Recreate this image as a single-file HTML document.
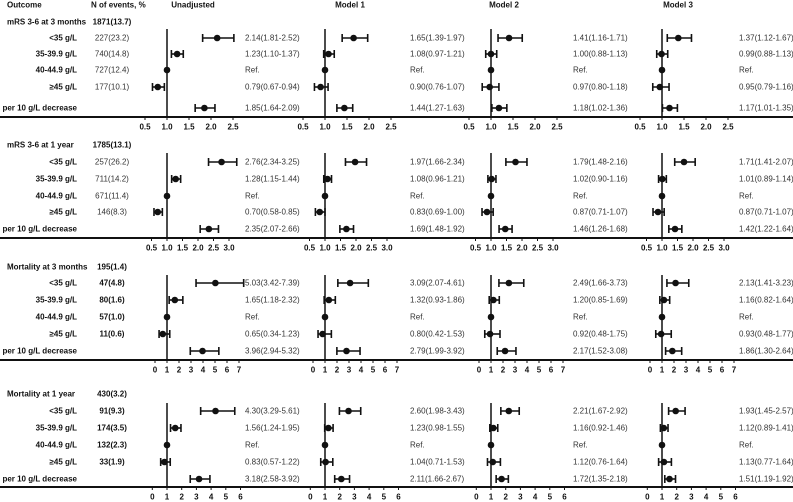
<!DOCTYPE html>
<html><head><meta charset="utf-8"><style>
html,body{margin:0;padding:0;background:#fff;}
svg{display:block;font-family:"Liberation Sans",Arial,sans-serif;}
.t{font-size:8px;fill:#333;}
.b{font-size:8px;font-weight:bold;fill:#111;}
</style></head><body>
<svg id="chart" width="793" height="502" viewBox="0 0 793 502"></svg>
<script>
const blockTitles = ["mRS 3-6 at 3 months","mRS 3-6 at 1 year","Mortality at 3 months","Mortality at 1 year"];
const blockTotals = ["1871(13.7)","1785(13.1)","195(1.4)","430(3.2)"];
const rowLabels = ["<35 g/L","35-39.9 g/L","40-44.9 g/L","≥45 g/L","per 10 g/L decrease"];
const modelNames = ["Unadjusted","Model 1","Model 2","Model 3"];
const events1 = ["227(23.2)","740(14.8)","727(12.4)","177(10.1)",""];
const events2 = ["257(26.2)","711(14.2)","671(11.4)","146(8.3)",""];
const events3 = ["47(4.8)","80(1.6)","57(1.0)","11(0.6)",""];
const events4 = ["91(9.3)","174(3.5)","132(2.3)","33(1.9)",""];
// [estimate, lower, upper]; null CI = reference
const b1 = [
 [[2.14,1.81,2.52],[1.23,1.10,1.37],[1,null,null],[0.79,0.67,0.94],[1.85,1.64,2.09]],
 [[1.65,1.39,1.97],[1.08,0.97,1.21],[1,null,null],[0.90,0.76,1.07],[1.44,1.27,1.63]],
 [[1.41,1.16,1.71],[1.00,0.88,1.13],[1,null,null],[0.97,0.80,1.18],[1.18,1.02,1.36]],
 [[1.37,1.12,1.67],[0.99,0.88,1.13],[1,null,null],[0.95,0.79,1.16],[1.17,1.01,1.35]]];
const b2 = [
 [[2.76,2.34,3.25],[1.28,1.15,1.44],[1,null,null],[0.70,0.58,0.85],[2.35,2.07,2.66]],
 [[1.97,1.66,2.34],[1.08,0.96,1.21],[1,null,null],[0.83,0.69,1.00],[1.69,1.48,1.92]],
 [[1.79,1.48,2.16],[1.02,0.90,1.16],[1,null,null],[0.87,0.71,1.07],[1.46,1.26,1.68]],
 [[1.71,1.41,2.07],[1.01,0.89,1.14],[1,null,null],[0.87,0.71,1.07],[1.42,1.22,1.64]]];
const b3 = [
 [[5.03,3.42,7.39],[1.65,1.18,2.32],[1,null,null],[0.65,0.34,1.23],[3.96,2.94,5.32]],
 [[3.09,2.07,4.61],[1.32,0.93,1.86],[1,null,null],[0.80,0.42,1.53],[2.79,1.99,3.92]],
 [[2.49,1.66,3.73],[1.20,0.85,1.69],[1,null,null],[0.92,0.48,1.75],[2.17,1.52,3.08]],
 [[2.13,1.41,3.23],[1.16,0.82,1.64],[1,null,null],[0.93,0.48,1.77],[1.86,1.30,2.64]]];
const b4 = [
 [[4.30,3.29,5.61],[1.56,1.24,1.95],[1,null,null],[0.83,0.57,1.22],[3.18,2.58,3.92]],
 [[2.60,1.98,3.43],[1.23,0.98,1.55],[1,null,null],[1.04,0.71,1.53],[2.11,1.66,2.67]],
 [[2.21,1.67,2.92],[1.16,0.92,1.46],[1,null,null],[1.12,0.76,1.64],[1.72,1.35,2.18]],
 [[1.93,1.45,2.57],[1.12,0.89,1.41],[1,null,null],[1.13,0.77,1.64],[1.51,1.19,1.92]]];
const ticks1 = [0.5,1.0,1.5,2.0,2.5];
const ticks2 = [0.5,1.0,1.5,2.0,2.5,3.0];
const ticks3 = [0,1,2,3,4,5,6,7];
const ticks4 = [0,1,2,3,4,5,6];
const tickLabels1 = ["0.5","1.0","1.5","2.0","2.5"];
const tickLabels2 = ["0.5","1.0","1.5","2.0","2.5","3.0"];
const tickLabels3 = ["0","1","2","3","4","5","6","7"];
const tickLabels4 = ["0","1","2","3","4","5","6"];

const svg = document.getElementById('chart');
const NS = "http://www.w3.org/2000/svg";
function mk(tag, attrs, parent){const e=document.createElementNS(NS,tag);for(const k in attrs)e.setAttribute(k,attrs[k]);(parent||svg).appendChild(e);return e;}
function txt(s,x,y,cls,anchor){const e=mk('text',{x:x,y:y,class:cls,'text-anchor':anchor||'start','dominant-baseline':'central'});e.textContent=s;return e;}

const refX = [167,325,491,662];
const textX = [245,410,573,739];
const headX = [193,350,504,678];
const layout = [
 {title:22, rows:[38,54,70,87,108], axis:117, lab:127, top:29, k:44, ticks:ticks1, tl:tickLabels1, data:b1, ev:events1, boldEv:false},
 {title:145, rows:[162,179,196,212,229], axis:238, lab:248, top:153, k:31, ticks:ticks2, tl:tickLabels2, data:b2, ev:events2, boldEv:false},
 {title:267, rows:[283,300,317,334,351], axis:360, lab:370, top:275, k:12, ticks:ticks3, tl:tickLabels3, data:b3, ev:events3, boldEv:true},
 {title:394, rows:[411,428,445,462,479], axis:487, lab:497, top:403, k:14.7, ticks:ticks4, tl:tickLabels4, data:b4, ev:events4, boldEv:true}];

let h;
h = txt("Outcome",7,5,'b');


h = txt("N of events, %",91,5,'b');


modelNames.forEach((m,i)=>{
  const e = txt(m,headX[i],5,'b','middle');
  
  
});

layout.forEach((L,bi)=>{
  const g = mk('g',{});
  
  
  const t = txt(blockTitles[bi],7,L.title,'b'); g.appendChild(t);
  
  
  const tot = txt(blockTotals[bi],112,L.title,'b','middle'); g.appendChild(tot);
  
  
  rowLabels.forEach((r,ri)=>{
    const lt = txt(r,77,L.rows[ri],'b','end'); g.appendChild(lt);
    
    
    if(L.ev[ri]){
      const et = txt(L.ev[ri],112,L.rows[ri],L.boldEv?'b':'t','middle'); g.appendChild(et);
      
      
    }
  });
  // axis line
  const ax = mk('line',{x1:0,x2:793,y1:L.axis,y2:L.axis,stroke:'#111','stroke-width':2},g);
  
  
  for(let m=0;m<4;m++){
    const xs = v => refX[m] + (v-1)*L.k;
    const rl = mk('line',{x1:refX[m],x2:refX[m],y1:L.top,y2:L.axis,stroke:'#111','stroke-width':1.5},g);
    
    
    L.ticks.forEach((tv,ti)=>{
      const tk = mk('line',{x1:xs(tv),x2:xs(tv),y1:L.axis,y2:L.axis+3,stroke:'#111','stroke-width':1},g);
      
      
      const tl = txt(L.tl[ti],xs(tv),L.lab,'b','middle'); g.appendChild(tl);
      
      
    });
    L.data[m].forEach((d,ri)=>{
      const y = L.rows[ri];
      if(d[1]!==null){
        const ci = mk('line',{x1:xs(d[1]),x2:xs(d[2]),y1:y,y2:y,stroke:'#111','stroke-width':1.6},g);
        
        
        [d[1],d[2]].forEach(v=>{
          const cap = mk('line',{x1:xs(v),x2:xs(v),y1:y-4,y2:y+4,stroke:'#111','stroke-width':1.6},g);
          
          
        });
      }
      const pt = mk('circle',{cx:xs(d[0]),cy:y,r:3.3,fill:'#111'},g);
      
      
      const s = d[1]===null ? "Ref." : d[0].toFixed(2)+"("+d[1].toFixed(2)+"-"+d[2].toFixed(2)+")";
      const vt = txt(s,textX[m],y,'t'); g.appendChild(vt);
      
      
    });
  }
});
</script>
</body></html>
